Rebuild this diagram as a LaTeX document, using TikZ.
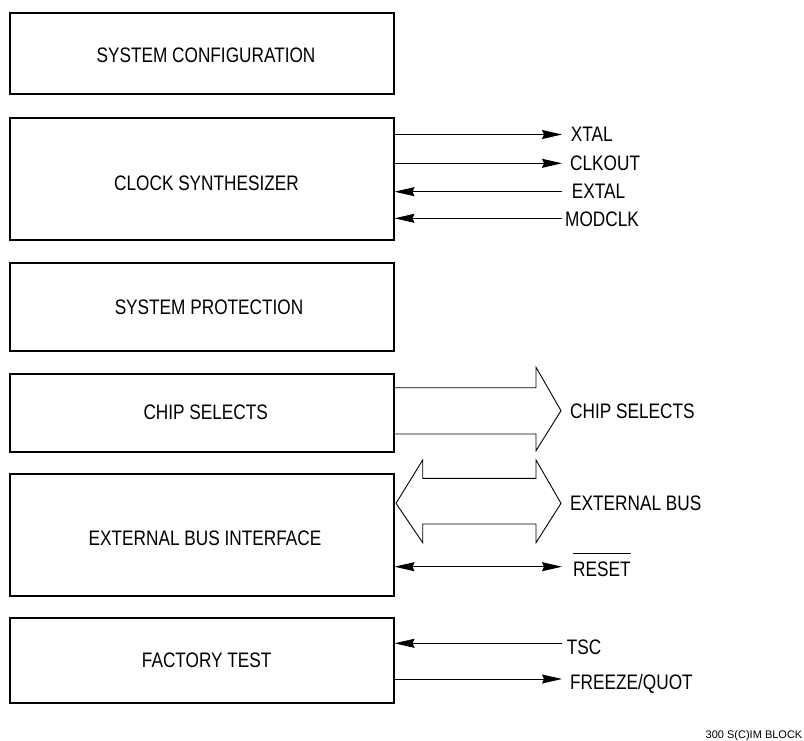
\documentclass[tikz,border=0pt]{standalone}
\usepackage{fontspec}
\setmainfont{Liberation Sans}[FakeStretch=0.82]
\newfontfamily\footfont{Liberation Sans}
\usetikzlibrary{arrows.meta}
\newcommand\myoverline[1]{\setbox0\hbox{#1}\rlap{\rule[\dimexpr\ht0+8pt\relax]{\wd0}{0.9pt}}\box0}
\begin{document}
\begin{tikzpicture}[x=1pt,y=-1pt,
  box/.style={draw,line width=2pt,minimum width=384pt,inner sep=0pt},
  btxt/.style={font=\fontsize{21}{25}\selectfont,inner sep=0pt,text height=15pt,text depth=0pt},
  lab/.style={btxt,anchor=west},
  sigout/.style={line width=1pt,-{Stealth[length=20pt,width=9pt,inset=2pt]}},
  sigboth/.style={line width=1pt,{Stealth[length=20pt,width=9pt,inset=2pt]}-{Stealth[length=20pt,width=9pt,inset=2pt]}},
  hollow/.style={line width=0.9pt,line join=miter}]
\useasboundingbox (0,0) rectangle (804,740);

% blocks
\node[box,minimum height=80.7pt]  (b1) at (201.5,53.15) {};
\node[box,minimum height=122.3pt] (b2) at (201.5,178.65) {};
\node[box,minimum height=88pt]    (b3) at (201.5,306.8) {};
\node[box,minimum height=78pt]    (b4) at (201.5,412.8) {};
\node[box,minimum height=122pt]   (b5) at (201.5,535.2) {};
\node[box,minimum height=84.7pt]  (b6) at (201.5,660.15) {};

\node[btxt] (t1) at (206,55)    {SYSTEM CONFIGURATION};
\node[btxt] (t2) at (206.5,183) {CLOCK SYNTHESIZER};
\node[btxt] (t3) at (209,306.7) {SYSTEM PROTECTION};
\node[btxt] (t4) at (205.7,411.7) {CHIP SELECTS};
\node[btxt] (t5) at (205,538)   {EXTERNAL BUS INTERFACE};
\node[btxt] (t6) at (206.7,660) {FACTORY TEST};

% clock signals
\coordinate (pX) at (562,134.5);
\coordinate (pC) at (562,163.3);
\coordinate (pE) at (562,191.7);
\coordinate (pM) at (562,218.3);
\node[lab] (lX) at (570.7,133.7) {XTAL};
\node[lab] (lC) at (570,162.5)   {CLKOUT};
\node[lab] (lE) at (571.7,191)   {EXTAL};
\node[lab] (lM) at (565,219)     {MODCLK};
\draw[sigout] (b2.east |- pX) -- (pX);
\draw[sigout] (b2.east |- pC) -- (pC);
\draw[sigout] (pE) -- (b2.east |- pE);
\draw[sigout] (pM) -- (b2.east |- pM);

% chip selects hollow arrow
\draw[hollow] (b4.east |- 0,387.7) -- (536,387.7) -- (536,367.3) -- (561,410.7)
  -- (536,450.7) -- (536,434) -- (b4.east |- 0,434);
\node[lab] (lCS) at (570,410.5) {CHIP SELECTS};

% external bus hollow double arrow
\draw[hollow] (422.7,478.3) -- (536,478.3) -- (536,460) -- (561,503.3) -- (536,542.7)
  -- (536,524) -- (422.7,524) -- (422.7,542.7) -- (396,503.3) -- (422.7,460) -- cycle;
\node[lab] (lEB) at (570,503) {EXTERNAL BUS};

% reset
\coordinate (pR) at (562,566.7);
\draw[sigboth] (b5.east |- pR) -- (pR);
\node[lab] (lR) at (573,569) {\myoverline{RESET}};

% factory test
\coordinate (pT) at (562,643.3);
\coordinate (pF) at (562,679);
\draw[sigout] (pT) -- (b6.east |- pT);
\draw[sigout] (b6.east |- pF) -- (pF);
\node[lab] (lT) at (566.7,647) {TSC};
\node[lab] (lF) at (570,682)   {FREEZE/QUOT};

% footer
\node[font=\footfont\fontsize{11}{13}\selectfont,anchor=base east,inner sep=0pt] (foot) at (802.5,738) {300 S(C)IM BLOCK};
\end{tikzpicture}
\end{document}
